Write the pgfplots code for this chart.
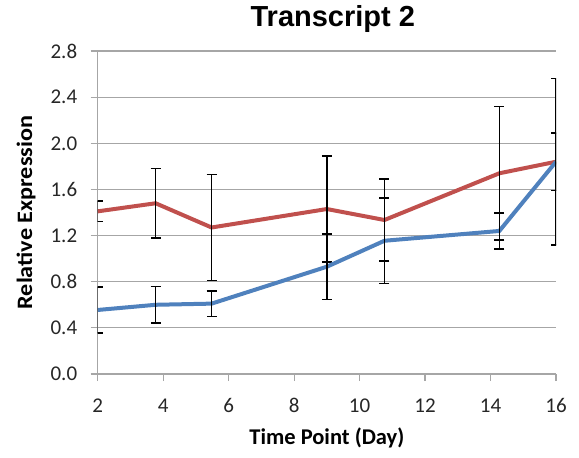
\documentclass[border=0pt]{standalone}
\usepackage{fontspec}
\setmainfont{Carlito}
\newfontfamily\titlefont{Liberation Sans}
\usepackage{pgfplots}
\pgfplotsset{compat=1.18}
\definecolor{xred}{HTML}{C0504D}
\definecolor{xblue}{HTML}{4F81BD}
\definecolor{gridg}{HTML}{A6A6A6}
\begin{document}
\begin{tikzpicture}[x=1pt,y=1pt]
\useasboundingbox (0,0) rectangle (579,458);
\begin{axis}[
  at={(97.7pt,84pt)}, anchor=south west,
  scale only axis, width=458.3pt, height=323pt,
  xmin=2, xmax=16, ymin=0, ymax=2.8,
  xtick={2,4,...,16}, ytick={0,0.4,...,2.8},
  axis x line*=bottom, axis y line*=left,
  xtick pos=bottom, ytick pos=left,
  axis line style={gridg, line width=1.2pt},
  every outer x axis line/.append style={-}, every outer y axis line/.append style={-},
  ymajorgrids, grid style={gridg, line width=1.2pt},
  major tick style={draw=gridg, line width=1.2pt}, tick align=outside, major tick length=7pt,
  /pgf/number format/assume math mode=true,
  yticklabel style={/pgf/number format/fixed, /pgf/number format/fixed zerofill, /pgf/number format/precision=1, xshift=-10pt},
  xticklabel style={yshift=-14pt},
  tick label style={font=\fontsize{21}{25}\selectfont, text=black!85},
  title={\titlefont\bfseries\fontsize{29}{34}\selectfont Transcript 2},
  title style={at={(axis description cs:0.513,1)}, anchor=center, yshift=26pt},
  xlabel={Time Point (Day)},
  ylabel={Relative Expression},
  every axis x label/.style={at={(axis description cs:0.5,0)}, yshift=-64pt, anchor=center, font=\fontsize{22.5}{26}\selectfont\bfseries},
  every axis y label/.style={at={(axis description cs:0,0.5)}, xshift=-71.7pt, rotate=90, anchor=center, font=\fontsize{22}{26}\selectfont\bfseries, xscale=1.1},
  clip=true,
]
\addplot[xred, line width=4pt, no markers,
  error bars/.cd, y dir=both, y explicit,
  error bar style={black, line width=1.5pt},
  error mark options={rotate=90, mark size=5pt, line width=1.5pt, black}]
  coordinates {
  (2,1.41) +- (0,0.09)
  (3.77,1.48) +- (0,0.30)
  (5.48,1.27) +- (0,0.46)
  (9.0,1.43) +- (0,0.46)
  (10.76,1.335) +- (0,0.355)
  (14.27,1.74) +- (0,0.58)
  (16,1.84) +- (0,0.72)
  };
\addplot[xblue, line width=4pt, no markers,
  error bars/.cd, y dir=both, y explicit,
  error bar style={black, line width=1.5pt},
  error mark options={rotate=90, mark size=5pt, line width=1.5pt, black}]
  coordinates {
  (2,0.555) +- (0,0.20)
  (3.77,0.60) +- (0,0.16)
  (5.48,0.61) +- (0,0.11)
  (9.0,0.93) +- (0,0.285)
  (10.76,1.155) +- (0,0.37)
  (14.27,1.24) +- (0,0.155)
  (16,1.84) +- (0,0.25)
  };
\end{axis}
\end{tikzpicture}
\end{document}
